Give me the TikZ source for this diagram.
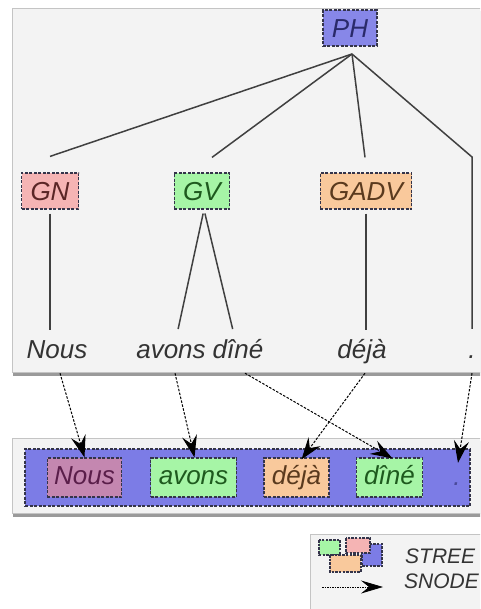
\documentclass[tikz,border=0pt]{standalone}
\usepackage{fontspec}
\setmainfont{Liberation Sans}
\usetikzlibrary{arrows.meta,calc}
\definecolor{panel}{HTML}{F3F3F3}
\definecolor{bordc}{HTML}{C4C4C4}
\definecolor{shadc}{HTML}{9A9A9A}
\definecolor{dashc}{HTML}{34344A}
\definecolor{linec}{HTML}{404040}
\definecolor{wordc}{HTML}{333333}
\definecolor{phc}{HTML}{8787E8}
\definecolor{pht}{HTML}{2A2A6A}
\definecolor{gnc}{HTML}{F5B4B4}
\definecolor{gnt}{HTML}{5A2626}
\definecolor{gvc}{HTML}{A6F5A6}
\definecolor{gvt}{HTML}{1E5A1E}
\definecolor{gadvc}{HTML}{F9C99C}
\definecolor{gadvt}{HTML}{5A3A1E}
\definecolor{sentc}{HTML}{7C7CE6}
\definecolor{nousc}{HTML}{C487B0}
\definecolor{noust}{HTML}{5A1E4A}
\definecolor{dott}{HTML}{4A4A9A}
\begin{document}
\begin{tikzpicture}[x=1pt,y=-1pt,
  every node/.style={font=\fontsize{26}{30}\selectfont\itshape},
  cat/.style={draw=dashc, dash pattern=on 3pt off 1.5pt, line width=1.2pt,
    minimum height=36pt, inner xsep=9pt, text height=19pt, text depth=0pt},
  bcat/.style={draw=dashc, dash pattern=on 3pt off 1.5pt, line width=1.2pt,
    minimum height=39pt, inner xsep=8pt, text height=19pt, text depth=5pt},
  word/.style={inner sep=0pt, text height=19pt, text depth=5pt, text=wordc},
  tline/.style={draw=linec, line width=1.5pt},
  sarrow/.style={draw=black, line width=1pt, dash pattern=on 2.5pt off 1.5pt,
    -{Stealth[length=22pt,width=15pt,inset=8pt]}},
  leg/.style={font=\fontsize{21}{25}\selectfont\itshape, text=wordc, inner sep=0pt},
  legbox/.style={draw=dashc, dash pattern=on 2.5pt off 1.2pt, line width=1.3pt}
]
\clip (0,0) rectangle (480,609);
\fill[white] (0,0) rectangle (480,609);
% top panel
\fill[shadc] (13,11) rectangle (490,375.5);
\filldraw[fill=panel, draw=bordc, line width=0.8pt] (12,8) rectangle (490,372);
% tree nodes
\node[cat, fill=phc, text=pht] (PH) at (350,28) {PH};
\node[cat, fill=gnc, text=gnt] (GN) at (50,191) {GN};
\node[cat, fill=gvc, text=gvt] (GV) at (202,191) {GV};
\node[cat, fill=gadvc, text=gadvt] (GADV) at (366,191) {GADV};
\coordinate (phb) at (352,54);
\coordinate (dotk) at (472,157);
% words
\node[word, anchor=base] (w1) at (57,358) {Nous};
\node[word, anchor=base] (w2) at (171,358) {avons};
\node[word, anchor=base] (w3) at (238,358) {dîné};
\node[word, anchor=base] (w4) at (362,358) {déjà};
\node[word, anchor=base] (w5) at (472,358) {.};
% tree lines
\draw[tline] (phb) -- ($(GN.north)+(0,-16)$);
\draw[tline] (phb) -- ($(GV.north)+(10,-15)$);
\draw[tline] (phb) -- ($(GADV.north)+(-1,-15)$);
\draw[tline] (phb) -- (dotk) -- ($(w5.north)+(0,-10)$);
\draw[tline, shorten <=4pt, shorten >=9pt] (GN.south) -- (GN.south |- w1.north);
\draw[tline, shorten <=4pt, shorten >=10pt] ($(GV.south)+(2,0)$) -- ($(w2.north)+(5,0)$);
\draw[tline, shorten <=4pt, shorten >=10pt] ($(GV.south)+(2,0)$) -- ($(w3.north)+(-3,0)$);
\draw[tline, shorten <=4pt, shorten >=9pt] (GADV.south) -- (GADV.south |- w4.north);
% bottom panel
\fill[shadc] (13,441) rectangle (490,516.5);
\filldraw[fill=panel, draw=bordc, line width=0.8pt] (12,438) rectangle (490,513);
\node[draw=dashc, dash pattern=on 3pt off 1.5pt, line width=1.2pt, fill=sentc,
  minimum width=445pt, minimum height=57pt, inner sep=0pt] (S) at (247.5,477.5) {};
\node[bcat, fill=nousc, text=noust, inner xsep=7pt] (b1) at (84.5,477.5) {Nous};
\node[bcat, fill=gvc, text=gvt] (b2) at (193.5,477.5) {avons};
\node[bcat, fill=gadvc, text=gadvt] (b3) at (296.5,477.5) {déjà};
\node[bcat, fill=gvc, text=gvt] (b4) at (389.5,477.5) {dîné};
\node[word, text=dott, anchor=base] (b5) at (457,485) {.};
% arrows
\draw[sarrow] ($(w1.south)+(3,10)$) -- (b1.north);
\draw[sarrow] ($(w2.south)+(4,10)$) -- ($(b2.north)+(1,0)$);
\draw[sarrow] ($(w3.south)+(7,10)$) -- ($(b4.north)+(3,1)$);
\draw[sarrow] ($(w4.south)+(3,10)$) -- ($(b3.north)+(5,2)$);
\draw[sarrow] ($(w5.south)+(0,10)$) -- ($(b5.north)+(1,-3)$);
% legend
\filldraw[fill=panel, draw=bordc, line width=0.8pt] (310,534) rectangle (490,620);
\filldraw[legbox, fill=sentc] (362,544) rectangle (382,566);
\filldraw[legbox, fill=gnc] (346,538) rectangle (370,553);
\filldraw[legbox, fill=gvc] (319,540) rectangle (340,555);
\filldraw[legbox, fill=gadvc] (330,555) rectangle (361,572);
\node[leg, anchor=base west] (lt1) at (405,563) {STREE};
\node[leg, anchor=base west] (lt2) at (404,588) {SNODE};
\coordinate (la) at (322,587);
\coordinate (lb) at (383,587);
\draw[draw=black, line width=0.8pt, dash pattern=on 1.5pt off 1pt,
  -{Stealth[length=22pt,width=13pt,inset=8pt]}] (la) -- (lb);
\end{tikzpicture}
\end{document}
